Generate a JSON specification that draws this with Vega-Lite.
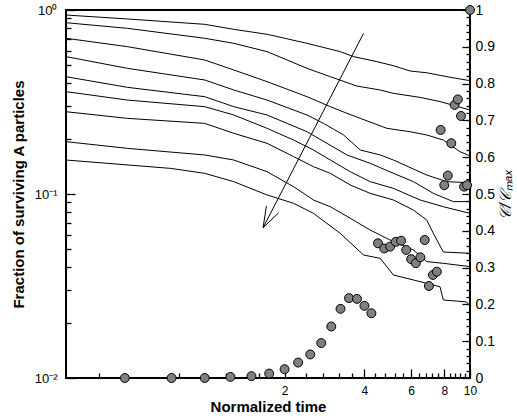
{
  "$schema": "https://vega.github.io/schema/vega-lite/v6.json",
  "width": 404,
  "height": 368,
  "autosize": "none",
  "padding": {"left": 66, "top": 10, "right": 47, "bottom": 41},
  "background": "white",
  "config": {
    "view": {"stroke": "black", "strokeWidth": 2},
    "font": "Liberation Sans",
    "axis": {
      "labelFont": "Liberation Sans",
      "titleFont": "Liberation Sans",
      "labelColor": "black",
      "titleColor": "black",
      "domain": false,
      "grid": false,
      "labelFontSize": 13,
      "titleFontSize": 15,
      "titleFontWeight": "bold"
    }
  },
  "datasets": {
    "curves": [
      {"curve": 1, "t": 0.3, "f": 0.939}, {"curve": 1, "t": 0.511, "f": 0.894}, {"curve": 1, "t": 1.0, "f": 0.836}, {"curve": 1, "t": 1.287, "f": 0.785}, {"curve": 1, "t": 1.718, "f": 0.738}, {"curve": 1, "t": 2.43, "f": 0.659}, {"curve": 1, "t": 3.243, "f": 0.594}, {"curve": 1, "t": 3.64, "f": 0.558}, {"curve": 1, "t": 4.457, "f": 0.524}, {"curve": 1, "t": 5.145, "f": 0.498}, {"curve": 1, "t": 5.946, "f": 0.466}, {"curve": 1, "t": 6.87, "f": 0.456}, {"curve": 1, "t": 8.41, "f": 0.431}, {"curve": 1, "t": 10, "f": 0.413},
      {"curve": 2, "t": 0.3, "f": 0.853}, {"curve": 2, "t": 0.511, "f": 0.795}, {"curve": 2, "t": 1.0, "f": 0.702}, {"curve": 2, "t": 1.287, "f": 0.659}, {"curve": 2, "t": 1.718, "f": 0.594}, {"curve": 2, "t": 2.43, "f": 0.482}, {"curve": 2, "t": 2.975, "f": 0.434}, {"curve": 2, "t": 3.749, "f": 0.386}, {"curve": 2, "t": 4.587, "f": 0.3675}, {"curve": 2, "t": 5.145, "f": 0.3525}, {"curve": 2, "t": 6.485, "f": 0.335}, {"curve": 2, "t": 7.71, "f": 0.318}, {"curve": 2, "t": 10, "f": 0.286},
      {"curve": 3, "t": 0.3, "f": 0.702}, {"curve": 3, "t": 0.511, "f": 0.632}, {"curve": 3, "t": 1.0, "f": 0.535}, {"curve": 3, "t": 1.287, "f": 0.472}, {"curve": 3, "t": 1.718, "f": 0.408}, {"curve": 3, "t": 2.43, "f": 0.338}, {"curve": 3, "t": 2.975, "f": 0.2983}, {"curve": 3, "t": 3.437, "f": 0.2745}, {"curve": 3, "t": 3.858, "f": 0.2577}, {"curve": 3, "t": 4.86, "f": 0.2275}, {"curve": 3, "t": 5.946, "f": 0.218}, {"curve": 3, "t": 6.87, "f": 0.2093}, {"curve": 3, "t": 7.93, "f": 0.1965}, {"curve": 3, "t": 9.17, "f": 0.1698}, {"curve": 3, "t": 10, "f": 0.161},
      {"curve": 4, "t": 0.3, "f": 0.558}, {"curve": 4, "t": 0.511, "f": 0.482}, {"curve": 4, "t": 1.0, "f": 0.4165}, {"curve": 4, "t": 1.287, "f": 0.3675}, {"curve": 4, "t": 1.718, "f": 0.324}, {"curve": 4, "t": 2.43, "f": 0.2688}, {"curve": 4, "t": 2.806, "f": 0.242}, {"curve": 4, "t": 3.337, "f": 0.2093}, {"curve": 4, "t": 3.858, "f": 0.1734}, {"curve": 4, "t": 4.587, "f": 0.163}, {"curve": 4, "t": 5.145, "f": 0.153}, {"curve": 4, "t": 6.87, "f": 0.1268}, {"curve": 4, "t": 8.17, "f": 0.1167}, {"curve": 4, "t": 10, "f": 0.1152},
      {"curve": 5, "t": 0.3, "f": 0.434}, {"curve": 5, "t": 0.511, "f": 0.38}, {"curve": 5, "t": 1.0, "f": 0.338}, {"curve": 5, "t": 1.287, "f": 0.2983}, {"curve": 5, "t": 1.718, "f": 0.2688}, {"curve": 5, "t": 2.43, "f": 0.218}, {"curve": 5, "t": 2.89, "f": 0.1885}, {"curve": 5, "t": 3.437, "f": 0.163}, {"curve": 5, "t": 4.206, "f": 0.1468}, {"curve": 5, "t": 5.145, "f": 0.1295}, {"curve": 5, "t": 6.12, "f": 0.1167}, {"curve": 5, "t": 7.275, "f": 0.1008}, {"curve": 5, "t": 8.65, "f": 0.0909}, {"curve": 5, "t": 10, "f": 0.0909},
      {"curve": 6, "t": 0.3, "f": 0.36}, {"curve": 6, "t": 0.511, "f": 0.324}, {"curve": 6, "t": 1.0, "f": 0.2983}, {"curve": 6, "t": 1.287, "f": 0.2688}, {"curve": 6, "t": 1.718, "f": 0.2275}, {"curve": 6, "t": 2.163, "f": 0.1965}, {"curve": 6, "t": 2.57, "f": 0.1734}, {"curve": 6, "t": 2.975, "f": 0.153}, {"curve": 6, "t": 3.537, "f": 0.1322}, {"curve": 6, "t": 4.206, "f": 0.1167}, {"curve": 6, "t": 5.145, "f": 0.1073}, {"curve": 6, "t": 6.485, "f": 0.0928}, {"curve": 6, "t": 7.93, "f": 0.0853}, {"curve": 6, "t": 10, "f": 0.0785},
      {"curve": 7, "t": 0.3, "f": 0.28}, {"curve": 7, "t": 0.511, "f": 0.2577}, {"curve": 7, "t": 1.0, "f": 0.242}, {"curve": 7, "t": 1.287, "f": 0.2137}, {"curve": 7, "t": 1.718, "f": 0.1885}, {"curve": 7, "t": 2.163, "f": 0.1596}, {"curve": 7, "t": 2.57, "f": 0.1408}, {"curve": 7, "t": 2.975, "f": 0.1295}, {"curve": 7, "t": 3.537, "f": 0.1119}, {"curve": 7, "t": 4.206, "f": 0.1008}, {"curve": 7, "t": 5.145, "f": 0.0928}, {"curve": 7, "t": 6.12, "f": 0.0818}, {"curve": 7, "t": 6.87, "f": 0.0722}, {"curve": 7, "t": 7.275, "f": 0.0611}, {"curve": 7, "t": 7.93, "f": 0.0484}, {"curve": 7, "t": 10, "f": 0.0476},
      {"curve": 8, "t": 0.3, "f": 0.1925}, {"curve": 8, "t": 0.511, "f": 0.177}, {"curve": 8, "t": 1.0, "f": 0.163}, {"curve": 8, "t": 1.287, "f": 0.153}, {"curve": 8, "t": 1.718, "f": 0.1322}, {"curve": 8, "t": 2.163, "f": 0.1096}, {"curve": 8, "t": 2.57, "f": 0.0928}, {"curve": 8, "t": 2.975, "f": 0.0853}, {"curve": 8, "t": 3.537, "f": 0.0738}, {"curve": 8, "t": 4.206, "f": 0.0637}, {"curve": 8, "t": 5.0, "f": 0.0562}, {"curve": 8, "t": 6.12, "f": 0.0496}, {"curve": 8, "t": 6.87, "f": 0.0429}, {"curve": 8, "t": 7.93, "f": 0.042}, {"curve": 8, "t": 10, "f": 0.0403},
      {"curve": 9, "t": 0.3, "f": 0.153}, {"curve": 9, "t": 0.7435, "f": 0.1378}, {"curve": 9, "t": 1.0, "f": 0.1295}, {"curve": 9, "t": 1.287, "f": 0.1167}, {"curve": 9, "t": 1.718, "f": 0.0988}, {"curve": 9, "t": 2.163, "f": 0.089}, {"curve": 9, "t": 2.57, "f": 0.0785}, {"curve": 9, "t": 3.243, "f": 0.0611}, {"curve": 9, "t": 3.97, "f": 0.0466}, {"curve": 9, "t": 4.587, "f": 0.0447}, {"curve": 9, "t": 5.145, "f": 0.0363}, {"curve": 9, "t": 6.12, "f": 0.0341}, {"curve": 9, "t": 6.87, "f": 0.0327}, {"curve": 9, "t": 7.71, "f": 0.0313}, {"curve": 9, "t": 7.93, "f": 0.02655}, {"curve": 9, "t": 9.7, "f": 0.0259}, {"curve": 9, "t": 10, "f": 0.0246}
    ],
    "arrow": [
      {"t": 3.97, "f": 0.747, "t2": 1.66, "f2": 0.0656},
      {"t": 1.66, "f": 0.0656, "t2": 1.708, "f2": 0.0861},
      {"t": 1.66, "f": 0.0656, "t2": 1.9, "f2": 0.0791}
    ],
    "dots": [
      {"t": 0.5, "c": 0}, {"t": 0.75, "c": 0}, {"t": 1.0, "c": 0}, {"t": 1.25, "c": 0.003}, {"t": 1.5, "c": 0.005}, {"t": 1.75, "c": 0.012}, {"t": 2.0, "c": 0.024}, {"t": 2.25, "c": 0.042}, {"t": 2.5, "c": 0.064}, {"t": 2.75, "c": 0.095}, {"t": 3.0, "c": 0.14}, {"t": 3.25, "c": 0.188}, {"t": 3.5, "c": 0.217}, {"t": 3.75, "c": 0.215}, {"t": 4.0, "c": 0.196}, {"t": 4.25, "c": 0.176},
      {"t": 4.5, "c": 0.366}, {"t": 4.75, "c": 0.352}, {"t": 5.0, "c": 0.357}, {"t": 5.25, "c": 0.37}, {"t": 5.5, "c": 0.373}, {"t": 5.75, "c": 0.348}, {"t": 6.0, "c": 0.323}, {"t": 6.25, "c": 0.312}, {"t": 6.5, "c": 0.328}, {"t": 6.75, "c": 0.375}, {"t": 7.0, "c": 0.25}, {"t": 7.25, "c": 0.28}, {"t": 7.5, "c": 0.289},
      {"t": 7.75, "c": 0.674}, {"t": 8.0, "c": 0.524}, {"t": 8.25, "c": 0.55}, {"t": 8.5, "c": 0.638}, {"t": 8.75, "c": 0.742}, {"t": 9.0, "c": 0.757}, {"t": 9.25, "c": 0.712}, {"t": 9.5, "c": 0.52}, {"t": 9.75, "c": 0.524}, {"t": 10.0, "c": 1.0}
    ]
  },
  "layer": [
    {
      "data": {"name": "curves"},
      "mark": {"type": "line", "color": "black", "strokeWidth": 1},
      "encoding": {
        "x": {
          "field": "t", "type": "quantitative",
          "scale": {"type": "log", "domain": [0.3, 10], "nice": false},
          "axis": {
            "orient": "bottom",
            "title": "Normalized time",
            "values": [2, 4, 6, 8, 10],
            "format": "d",
            "offset": -9,
            "tickSize": 9,
            "tickColor": "#000000",
            "tickWidth": 1.3,
            "labelPadding": 7,
            "labelBaseline": "top",
            "labelFontSize": 12,
            "labelFlush": false,
            "titleX": 202,
            "titleY": 37,
            "titleBaseline": "middle"
          }
        },
        "y": {
          "field": "f", "type": "quantitative",
          "scale": {"type": "log", "domain": [0.01, 1], "nice": false},
          "axis": {
            "orient": "left",
            "title": "Fraction of surviving A particles",
            "values": [0.01, 0.1, 1],
            "labelExpr": "datum.value == 1 ? '10⁰' : datum.value == 0.1 ? '10⁻¹' : '10⁻²'",
            "offset": -9,
            "tickSize": 9,
            "tickColor": "#000000",
            "tickWidth": 1.3,
            "labelPadding": 9,
            "labelFlush": false,
            "titleX": -57,
            "titleY": 184,
            "titleAngle": -90,
            "titleBaseline": "middle",
            "titleAlign": "center"
          }
        },
        "detail": {"field": "curve"}
      }
    },
    {
      "data": {"name": "arrow"},
      "mark": {"type": "rule", "color": "black", "strokeWidth": 1},
      "encoding": {
        "x": {
          "field": "t", "type": "quantitative",
          "axis": {
            "orient": "bottom",
            "title": null,
            "labels": false,
            "values": [0.4, 0.8, 1.2, 1.6, 2.4, 2.8, 3.2, 3.6, 4.4, 4.8, 5.2, 5.6, 6.4, 6.8, 7.2, 7.6, 8.4, 8.8, 9.2, 9.6],
            "offset": -5,
            "tickSize": 5,
            "tickColor": "#000000",
            "tickWidth": 1.3
          }
        },
        "y": {
          "field": "f", "type": "quantitative",
          "scale": {"type": "log", "domain": [0.01, 1], "nice": false},
          "axis": {
            "orient": "left",
            "title": null,
            "labels": false,
            "values": [0.02, 0.03, 0.04, 0.05, 0.06, 0.07, 0.08, 0.09, 0.2, 0.3, 0.4, 0.5, 0.6, 0.7, 0.8, 0.9],
            "offset": -5,
            "tickSize": 5,
            "tickColor": "#000000",
            "tickWidth": 1.3
          }
        },
        "x2": {"field": "t2"},
        "y2": {"field": "f2"}
      }
    },
    {
      "data": {"name": "dots"},
      "transform": [{"filter": "datum.t <= 4.25"}],
      "mark": {"type": "circle", "size": 80, "fill": "#808080", "stroke": "black", "strokeWidth": 1, "opacity": 1, "clip": false},
      "encoding": {
        "x": {"field": "t", "type": "quantitative", "axis": null},
        "y": {
          "field": "c", "type": "quantitative",
          "scale": {"domain": [0, 1], "nice": false},
          "axis": {
            "orient": "right",
            "title": "𝒞/𝒞ₘₐₓ",
            "values": [0, 0.1, 0.2, 0.3, 0.4, 0.5, 0.6, 0.7, 0.8, 0.9, 1],
            "format": "~g",
            "offset": -8,
            "tickSize": 8,
            "tickColor": "#000000",
            "tickWidth": 1.3,
            "labelPadding": 5,
            "labelFontSize": 14,
            "labelFlush": false,
            "titleX": 43,
            "titleY": 184,
            "titleAngle": -90,
            "titleBaseline": "middle",
            "titleAlign": "center",
            "titleFontWeight": "normal",
            "titleFontStyle": "italic",
            "titleFontSize": 16
          }
        }
      }
    },
    {
      "data": {"name": "dots"},
      "transform": [{"filter": "datum.t > 4.25"}],
      "mark": {"type": "circle", "size": 80, "fill": "#808080", "stroke": "black", "strokeWidth": 1, "opacity": 1, "clip": false},
      "encoding": {
        "x": {"field": "t", "type": "quantitative", "axis": null},
        "y": {
          "field": "c", "type": "quantitative",
          "scale": {"domain": [0, 1], "nice": false},
          "axis": {
            "orient": "right",
            "title": null,
            "labels": false,
            "values": [0.02, 0.04, 0.06, 0.08, 0.12, 0.14, 0.16, 0.18, 0.22, 0.24, 0.26, 0.28, 0.32, 0.34, 0.36, 0.38, 0.42, 0.44, 0.46, 0.48, 0.52, 0.54, 0.56, 0.58, 0.62, 0.64, 0.66, 0.68, 0.72, 0.74, 0.76, 0.78, 0.82, 0.84, 0.86, 0.88, 0.92, 0.94, 0.96, 0.98],
            "offset": -4,
            "tickSize": 4,
            "tickColor": "#000000",
            "tickWidth": 1.3
          }
        }
      }
    }
  ],
  "resolve": {"scale": {"y": "independent"}, "axis": {"x": "independent", "y": "independent"}}
}
